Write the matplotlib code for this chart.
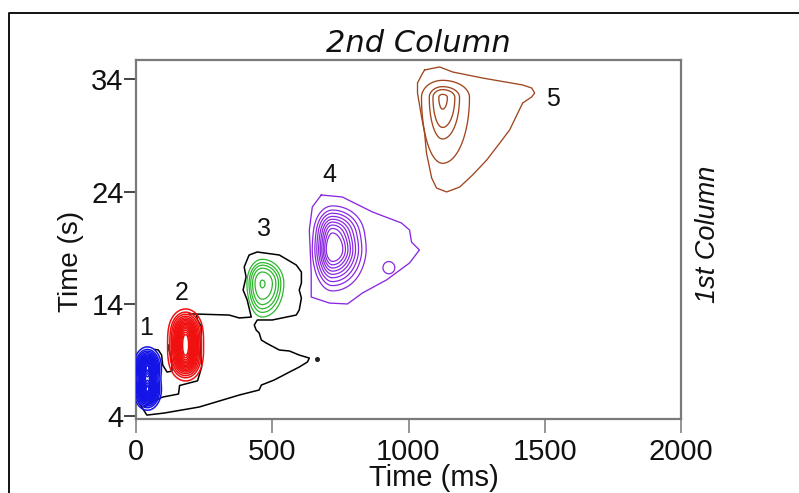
import numpy as np
import matplotlib
matplotlib.use("Agg")
import matplotlib.pyplot as plt
from matplotlib.lines import Line2D

plt.rcParams['font.family'] = ['Liberation Sans', 'DejaVu Sans']

# ---- peak groups (number label, colour, contour levels on the normalised field)
group_names = ['1', '2', '3', '4', '4b', '5']
group_colors = ['#1414e6', '#f01010', '#2cb82c', '#8a28e0', '#8a28e0', '#a0461e']
group_levels = [
    [0.05, 0.10, 0.15, 0.21, 0.27, 0.33, 0.39, 0.45, 0.51, 0.57, 0.63, 0.69, 0.75,
     0.81, 0.87, 0.93, 0.97],
    [0.05, 0.10, 0.15, 0.21, 0.27, 0.33, 0.39, 0.45, 0.51, 0.57, 0.63, 0.69, 0.75,
     0.81, 0.87, 0.92],
    [0.10, 0.18, 0.27, 0.40, 0.60, 0.96],
    [0.12, 0.20, 0.28, 0.37, 0.46, 0.55, 0.64, 0.73, 0.82],
    [0.30],
    [0.10, 0.40, 0.62, 0.93],
]
group_widths = [1.1, 1.1, 0.9, 0.9, 0.9, 0.95]

# ---- peak components: centre (ms, s) and left/right/lower/upper widths
comp_group = ['1', '1', '2', '2', '2', '3', '4', '4', '4b', '5']
comp_cx = [42, 42, 182, 182, 182, 463, 721, 721, 928, 1125]
comp_cy = [6.3, 8.3, 9.0, 10.3, 11.6, 15.8, 18.2, 20.4, 17.2, 32.4]
comp_sxl = [21, 21, 27, 27, 27, 26, 36, 36, 14, 36]
comp_sxr = [21, 21, 27, 27, 27, 37, 60, 60, 14, 46]
comp_syd = [0.75, 0.75, 0.85, 0.85, 0.85, 1.40, 1.65, 1.65, 0.35, 2.74]
comp_syu = [0.75, 0.75, 0.85, 0.85, 0.85, 1.00, 1.25, 1.25, 0.35, 0.71]

# ---- low-level (black) contour of the whole first-column region
bg_main_x = [5, 40, 103, 232, 342, 379, 452, 460, 507, 563, 599, 629, 636, 599, 563,
             526, 478, 460, 452, 441, 434, 445, 500, 588, 599, 607, 599, 607, 607, 588,
             526, 445, 415, 397, 404, 393, 408, 423, 379, 342, 221, 195]
bg_main_y = [5.35, 4.04, 4.22, 4.76, 5.56, 5.83, 6.28, 6.72, 7.17, 7.88, 8.33, 8.78, 9.13,
             9.40, 9.76, 9.85, 10.47, 10.74, 11.37, 11.63, 12.08, 12.53, 12.53, 12.97,
             13.42, 14.49, 15.21, 15.83, 16.81, 17.44, 18.33, 18.60, 18.33, 17.26, 16.37,
             15.21, 14.32, 12.79, 12.71, 12.97, 13.06, 13.08]
bg_inner_x = [221, 226, 241, 237, 241, 230, 226, 160, 156, 98, 50, 31]
bg_inner_y = [13.06, 12.53, 11.90, 9.85, 8.33, 7.44, 7.10, 6.68, 5.92, 5.65, 5.12, 4.76]
bg_notch_x = [121, 121, 129, 132, 132, 114, 98, 94, 82, 70]
bg_notch_y = [10.30, 9.85, 9.22, 8.69, 7.97, 7.88, 8.51, 9.40, 9.85, 9.90]
bg_dot_x = [665]
bg_dot_y = [9.04]

# ---- outer rings of peaks 4 and 5
ring4_x = [680, 757, 868, 974, 1004, 1011, 1040, 1004, 919, 831, 776, 710, 643, 643, 636, 647, 680]
ring4_y = [23.69, 23.51, 22.17, 21.19, 20.56, 19.49, 18.78, 17.62, 16.10, 14.94, 13.96,
           14.04, 14.58, 16.72, 20.56, 22.62, 23.69]
ring5_x = [1059, 1114, 1162, 1272, 1419, 1452, 1463, 1452, 1419, 1401, 1371, 1335, 1287,
           1235, 1188, 1140, 1103, 1085, 1066, 1059, 1048, 1033, 1033, 1048, 1059]
ring5_y = [34.85, 35.12, 34.67, 34.13, 33.51, 33.24, 32.79, 32.44, 31.90, 31.00, 29.49,
           28.33, 26.81, 25.47, 24.40, 23.96, 24.31, 25.21, 27.44, 29.22, 30.65, 32.79,
           33.69, 34.40, 34.85]

# ---- peak number labels
label_text = ['1', '2', '3', '4', '5']
label_x = [37, 169, 471, 710, 1529]
label_y = [11.81, 14.94, 20.65, 25.47, 32.26]

x_ticks = [0, 500, 1000, 1500, 2000]
y_ticks = [4, 14, 24, 34]


def split_gauss(X, Y, cx, cy, sxl, sxr, syd, syu):
    sx = np.where(X < cx, sxl, sxr)
    sy = np.where(Y < cy, syd, syu)
    return np.exp(-0.5 * (((X - cx) / sx) ** 2 + ((Y - cy) / sy) ** 2))


fig = plt.figure(figsize=(7.99, 4.93), dpi=100)
ax = fig.add_axes([136 / 799, 1 - 419 / 493, 545 / 799, 359 / 493])

gx = np.arange(-60, 2001, 2.0)
gy = np.arange(3.0, 36.0, 0.04)
X, Y = np.meshgrid(gx, gy)

# black background contour
for bx, by in [(bg_main_x, bg_main_y), (bg_inner_x, bg_inner_y), (bg_notch_x, bg_notch_y)]:
    ax.plot(bx, by, color='black', lw=1.1, zorder=2, solid_joinstyle='round')
ax.plot(bg_dot_x, bg_dot_y, 'o', color='#222222', ms=2.6, zorder=2)

# coloured peaks
for name, col, lev, lw in zip(group_names, group_colors, group_levels, group_widths):
    Z = np.zeros_like(X)
    for g, cx, cy, a, b, c, d in zip(comp_group, comp_cx, comp_cy, comp_sxl,
                                     comp_sxr, comp_syd, comp_syu):
        if g == name:
            Z += split_gauss(X, Y, cx, cy, a, b, c, d)
    Z /= Z.max()
    ax.contour(X, Y, Z, levels=lev, colors=col, linewidths=lw, zorder=3)

ax.plot(ring4_x, ring4_y, color=group_colors[3], lw=0.95, zorder=3)
ax.plot(ring5_x, ring5_y, color=group_colors[5], lw=0.95, zorder=3)

for t, x, y in zip(label_text, label_x, label_y):
    ax.text(x, y, t, fontsize=18, ha='center', va='center', color='#111111')

ax.set_xlim(0, 2000)
ax.set_ylim(3.69, 35.74)
ax.set_xticks(x_ticks)
ax.set_yticks(y_ticks)
ax.tick_params(axis='x', direction='out', length=10, width=1.1, colors='#777777',
               labelcolor='#111111', labelsize=21, pad=4)
ax.tick_params(axis='y', direction='out', length=9, width=1.1, colors='#111111',
               labelsize=21, pad=0)
for side in ['left', 'right', 'top', 'bottom']:
    ax.spines[side].set_color('#7a7a7a')
    ax.spines[side].set_linewidth(1.6)

fig.text(418 / 799, 1 - 43 / 493, '2nd Column', fontsize=22, style='italic',
         family=['DejaVu Sans'], ha='center', va='center', color='#111111')
fig.text(708 / 799, 1 - 234 / 493, '1st Column', fontsize=19.5, style='italic',
         rotation=90, ha='center', va='center', color='#111111')
fig.text(71 / 799, 1 - 261 / 493, 'Time (s)', fontsize=20, rotation=90,
         ha='center', va='center', color='#111111')
fig.text(434 / 799, 1 - 486 / 493, 'Time (ms)', fontsize=21, ha='center',
         va='baseline', color='#111111')

# outer frame
fig.add_artist(Line2D([8.5 / 799, 8.5 / 799, 1.02], [-0.02, 1 - 12.5 / 493, 1 - 12.5 / 493],
                      color='black', lw=1.3, transform=fig.transFigure))

fig.savefig('out.png', dpi=100, facecolor='white')
